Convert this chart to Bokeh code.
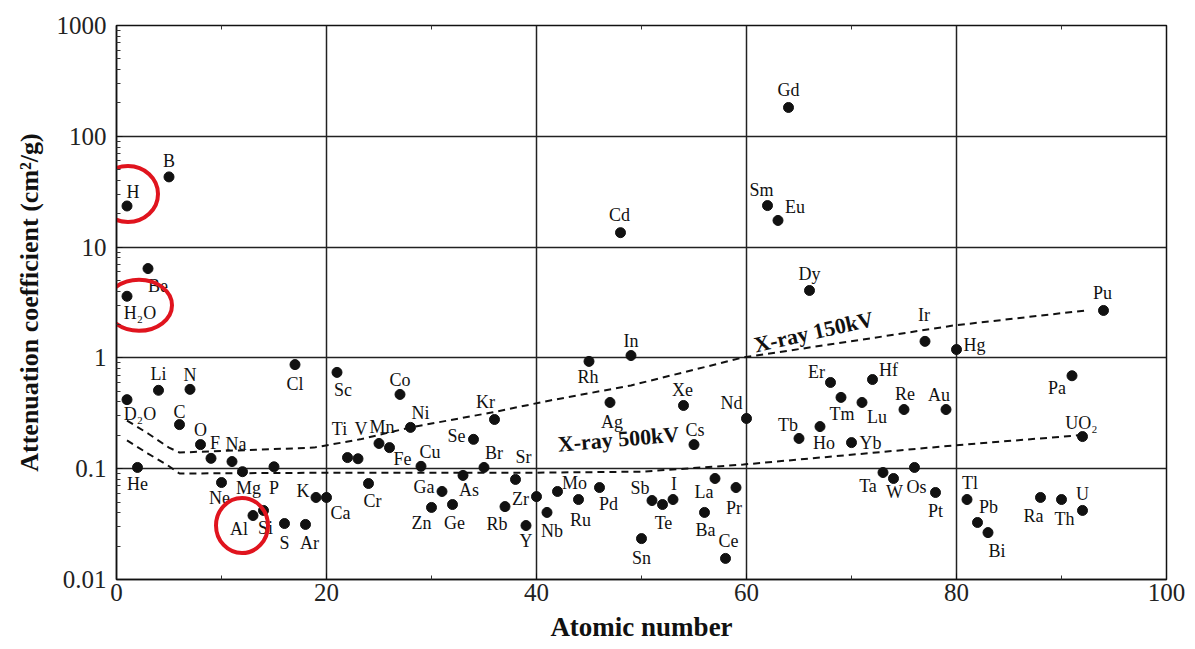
import math
from bokeh.plotting import figure
from bokeh.models import (ColumnDataSource, LinearAxis, FixedTicker,
                          CustomJSTickFormatter, Label)
from bokeh.core.properties import value
from bokeh.embed import file_html
from bokeh.resources import INLINE

# ---------------- data ----------------
elements = ["H", "B", "Be", "H₂O", "Li", "N", "D₂O", "C", "O", "F", "Na", "He", "Ne", "Mg", "P",
            "Al", "Si", "S", "Ar", "K", "Ca", "Cl", "Sc", "Ti", "V", "Cr", "Mn", "Fe", "Co", "Ni",
            "Cu", "Zn", "Ga", "Ge", "As", "Se", "Br", "Kr", "Rb", "Sr", "Y", "Zr", "Nb", "Mo",
            "Ru", "Rh", "Pd", "Ag", "Cd", "In", "Sn", "Sb", "Te", "I", "Xe", "Cs", "Ba", "La",
            "Ce", "Pr", "Nd", "Sm", "Eu", "Gd", "Tb", "Dy", "Ho", "Er", "Tm", "Yb", "Lu", "Hf",
            "Ta", "W", "Re", "Os", "Ir", "Pt", "Au", "Hg", "Tl", "Pb", "Bi", "Ra", "Th", "U",
            "Pa", "UO₂", "Pu"]
atomic_number = [1, 5, 3, 1, 4, 7, 1, 6, 8, 9, 11, 2, 10, 12, 15,
                 13, 14, 16, 18, 19, 20, 17, 21, 22, 23, 24, 25, 26, 27, 28,
                 29, 30, 31, 32, 33, 34, 35, 36, 37, 38, 39, 40, 41, 42,
                 44, 45, 46, 47, 48, 49, 50, 51, 52, 53, 54, 55, 56, 57,
                 58, 59, 60, 62, 63, 64, 65, 66, 67, 68, 69, 70, 71, 72,
                 73, 74, 75, 76, 77, 78, 79, 80, 81, 82, 83, 88, 90, 92,
                 91, 92, 94]
attenuation = [23.5, 43, 6.4, 3.6, 0.51, 0.52, 0.42, 0.25, 0.165, 0.124, 0.116, 0.1026, 0.075, 0.094, 0.104,
               0.0378, 0.042, 0.032, 0.0314, 0.055, 0.055, 0.87, 0.74, 0.126, 0.123, 0.0735, 0.169, 0.155, 0.468, 0.236,
               0.105, 0.0447, 0.0623, 0.0475, 0.087, 0.184, 0.1026, 0.278, 0.0455, 0.080, 0.0307, 0.056, 0.0403, 0.0623,
               0.0527, 0.93, 0.0676, 0.396, 13.5, 1.05, 0.0234, 0.0516, 0.0475, 0.0527, 0.372, 0.165, 0.0403, 0.0816,
               0.0155, 0.0676, 0.284, 23.7, 17.4, 182, 0.1875, 4.06, 0.240, 0.60, 0.44, 0.172, 0.396, 0.638,
               0.0924, 0.0816, 0.342, 0.1026, 1.41, 0.061, 0.342, 1.19, 0.0527, 0.0327, 0.0265, 0.055, 0.0527, 0.042,
               0.69, 0.195, 2.68]

xray150_z = [1, 3, 5, 6, 18.8, 23.2, 28, 35.7, 41.3, 49, 59.7, 71.8, 79.7, 92.3]
xray150_v = [0.272, 0.208, 0.155, 0.14, 0.155, 0.184, 0.236, 0.321, 0.413, 0.564, 1.01, 1.50, 1.96, 2.68]
xray500_z = [1, 3, 4.9, 6, 20.4, 39.4, 50, 59.7, 79.7, 91.6]
xray500_v = [0.18, 0.137, 0.107, 0.0905, 0.092, 0.092, 0.094, 0.109, 0.162, 0.20]

x_ticks = [0, 20, 40, 60, 80, 100]
y_ticks = [0.01, 0.1, 1, 10, 100, 1000]
highlighted = ["H", "H₂O", "Al"]

# ---------------- layout / style ----------------
W, H = 1195, 649
LEFT, RIGHT, TOP, BOTTOM = 116, 29, 25, 70
FRAME_W = W - LEFT - RIGHT
FRAME_H = H - TOP - BOTTOM
SERIF = "Liberation Serif"

# label offsets in screen pixels (dx right, dy down)
label_dx = [6, 0, 10, 13, 0, 0, 13, 0, 0, 4, 4, 0, -2, 6, 0,
            -14, 2, 0, 4, -13, 14, 0, 6, -8, 3, 4, 3, 13, 0, 10,
            9, -10, -18, 2, 6, -17, 10, -9, -8, 8, 0, -16, 5, 17,
            2, -1, 9, 2, -1, 0, 0, -12, 1, 1, -1, 1, 1, -11,
            3, -2, -15, -6, 17, 0, -11, 0, 4, -14, 1, 19, 15, 16,
            -15, 1, 1, 2, -1, 0, -7, 18, 3, 11, 9, -7, 3, 0,
            -15, -1, -1]
label_dy = [-14, -16, 17, 17, -16, -14, 14, -13, -15, -15, -18, 17, 15, 16, 21,
            13, 18, 19, 19, -6, 16, 19, 18, -29, -30, 17, -16, 11, -14, -14,
            -14, 16, -4, 18, 15, -3, -14, -17, 17, -22, 15, 2, 19, -8,
            20, 16, 16, 20, -18, -15, 19, -13, 18, -16, -15, -15, 18, 14,
            -17, 20, -15, -16, -13, -17, -13, -16, 16, -10, 17, 0, 15, -10,
            13, 14, -16, 20, -26, 19, -15, -5, -17, -15, 18, 19, 19, -16,
            12, -14, -17]
# highlight ellipse: centre offset from the point (px), and size (px)
hl_offset = [(1, -12), (12, 9), (-11, 10)]
hl_size = [(60, 56), (66, 51), (52, 55)]

p = figure(width=W, height=H, x_range=(0, 100), y_range=(0.01, 1000), y_axis_type="log",
           output_backend="svg", toolbar_location=None,
           min_border_left=LEFT, min_border_right=RIGHT, min_border_top=TOP, min_border_bottom=BOTTOM,
           background_fill_color="white", border_fill_color="white",
           outline_line_color="#111111", outline_line_width=1.5)

p.xaxis.ticker = FixedTicker(ticks=x_ticks, minor_ticks=[10, 30, 50, 70, 90])
y_minor = [k * 10.0 ** e for e in range(-2, 3) for k in range(2, 10)]
p.yaxis.ticker = FixedTicker(ticks=y_ticks, minor_ticks=y_minor)
p.yaxis.formatter = CustomJSTickFormatter(code="return String(tick);")

for ax in (p.xaxis[0], p.yaxis[0]):
    ax.axis_line_color = "#111111"
    ax.axis_line_width = 1.5
    ax.major_tick_in = 6
    ax.major_tick_out = 0
    ax.minor_tick_in = 4
    ax.minor_tick_out = 0
    ax.major_tick_line_color = "#111111"
    ax.minor_tick_line_color = "#333333"
    ax.major_label_text_font = SERIF
    ax.major_label_text_font_size = "25px"
    ax.major_label_text_color = "#222222"
    ax.axis_label_text_font = SERIF
    ax.axis_label_text_font_style = "bold"
    ax.axis_label_text_color = "#111111"

p.xaxis.axis_label_text_font_size = "27px"
p.yaxis.axis_label_text_font_size = "26px"
p.xaxis.axis_label = "Atomic number"
p.yaxis.axis_label = "Attenuation coefficient (cm²/g)"
p.xaxis.major_label_standoff = 4
p.yaxis.major_label_standoff = 10
p.xaxis.axis_label_standoff = 8
p.yaxis.axis_label_standoff = 10

top_axis = LinearAxis(ticker=FixedTicker(ticks=x_ticks, minor_ticks=[10, 30, 50, 70, 90]),
                      formatter=CustomJSTickFormatter(code="return '';"),
                      major_label_text_font_size="1px", axis_line_color=None,
                      major_tick_in=0, major_tick_out=0, minor_tick_in=4, minor_tick_out=0,
                      minor_tick_line_color="#333333")
p.add_layout(top_axis, "above")

p.grid.grid_line_color = "#222222"
p.grid.grid_line_width = 1.5
p.grid.grid_line_alpha = 1.0

# dashed X-ray curves
p.line(xray150_z, xray150_v, line_color="#111111", line_width=2, line_dash="7 5")
p.line(xray500_z, xray500_v, line_color="#111111", line_width=2, line_dash="7 5")

src = ColumnDataSource(dict(z=atomic_number, v=attenuation, name=elements,
                            dx=label_dx, dy=label_dy))
p.scatter(x="z", y="v", source=src, size=10, fill_color="#111111", line_color="#111111")
p.text(x="z", y="v", text="name", x_offset="dx", y_offset="dy", source=src,
       text_font=value(SERIF), text_font_size="18px", text_align="center",
       text_baseline="middle", text_color="#111111")

# curve annotations
p.add_layout(Label(x=66.4, y=1.72, text="X-ray 150kV", angle=math.radians(12.8),
                   text_font=SERIF, text_font_size="22px", text_font_style="bold",
                   text_align="center", text_baseline="middle", text_color="#111111"))
p.add_layout(Label(x=47.8, y=0.185, text="X-ray 500kV", angle=math.radians(4.8),
                   text_font=SERIF, text_font_size="22px", text_font_style="bold",
                   text_align="center", text_baseline="middle", text_color="#111111"))

# red highlight ellipses around selected points
px_per_x = FRAME_W / 100.0
px_per_dec = FRAME_H / 5.0
hx, hy, hw, hh = [], [], [], []
for name, (ox, oy), (w, h) in zip(highlighted, hl_offset, hl_size):
    i = elements.index(name)
    hx.append(atomic_number[i] + ox / px_per_x)
    hy.append(attenuation[i] * 10 ** (-oy / px_per_dec))
    hw.append(w)
    hh.append(h)
p.ellipse(x=hx, y=hy, width=hw, height=hh, width_units="screen", height_units="screen",
          fill_color=None, line_color="#e0141e", line_width=4)

open("out.html", "w").write(file_html(p, INLINE))
